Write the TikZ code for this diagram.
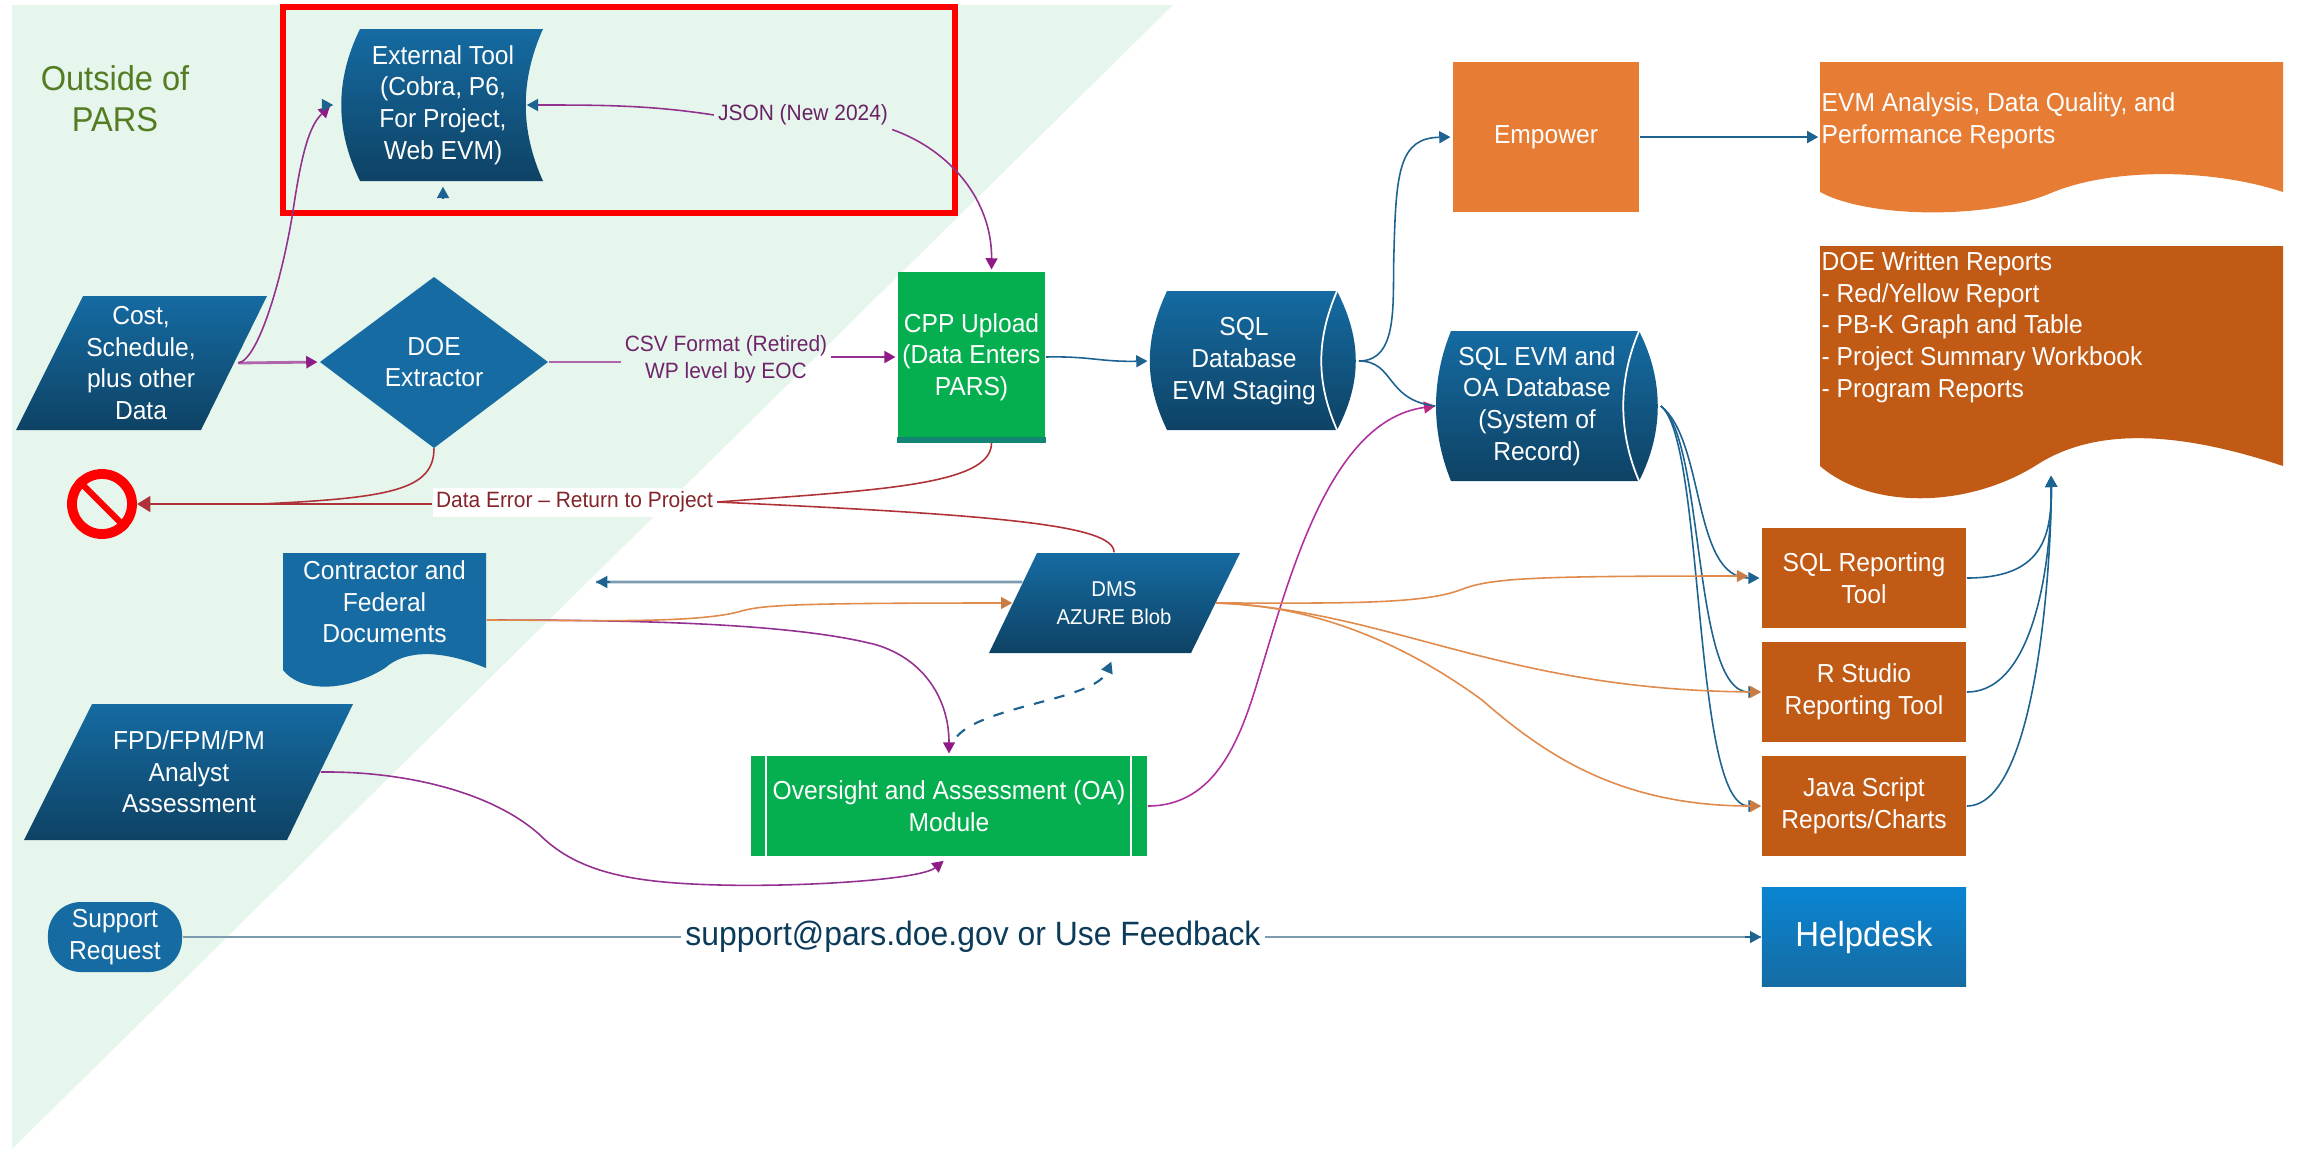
\documentclass[tikz,border=0pt]{standalone}
\usepackage{fontspec}
\setmainfont[FakeStretch=0.945]{Liberation Sans}
\usetikzlibrary{positioning, arrows.meta}
\definecolor{paleGreen}{HTML}{E6F6EC}
\definecolor{oliveText}{HTML}{547D23}
\definecolor{boxGreen}{HTML}{05AF50}
\definecolor{midBlue}{HTML}{156BA2}
\definecolor{deepBlue}{HTML}{0E4264}
\definecolor{lineBlue}{HTML}{1C6391}
\definecolor{lineGray}{HTML}{7C9AB0}
\definecolor{linePurple}{HTML}{94308F}
\definecolor{tipPurple}{HTML}{8E1B86}
\definecolor{lineMagenta}{HTML}{B0309F}
\definecolor{lineRed}{HTML}{AF3238}
\definecolor{lineOrange}{HTML}{E08A4C}
\definecolor{lightOrange}{HTML}{E77D35}
\definecolor{darkOrange}{HTML}{C05A14}
\tikzset{
    boxtext/.style={text=white, align=center, inner sep=0pt, font=\fontsize{7.4}{9}\selectfont},
    doctext/.style={text=white, align=left, inner sep=0pt, anchor=north west, font=\fontsize{7.4}{9}\selectfont},
    edgetext/.style={align=center, inner sep=1pt, font=\fontsize{6.3}{7.8}\selectfont},
    darkgrad/.style={top color=midBlue, bottom color=deepBlue},
    blueln/.style={lineBlue, line width=0.45pt, shorten >=0.5pt, -{Triangle[length=3.2pt,width=3.4pt]}},
    purpleln/.style={linePurple, line width=0.45pt, shorten >=0.5pt, -{Triangle[length=3.2pt,width=3.4pt,color=tipPurple]}},
    orangeln/.style={lineOrange, line width=0.45pt, -{Triangle[length=3.2pt,width=3.4pt,color=lineOrange!90!black]}},
    redln/.style={lineRed, line width=0.45pt}
}

\begin{document}
\begin{tikzpicture}[x=0.01cm,y=-0.01cm]
    \useasboundingbox (0,0) rectangle (2298,1151);

    % outside area
    \fill[paleGreen] (12,5) -- (1173,5) -- (12,1149) -- cycle;
    \node[text=oliveText, align=center, inner sep=0pt, font=\fontsize{9.8}{11.6}\selectfont] (outside) at (115,99) {Outside of\\PARS};

    % blue shapes on the left
    \path[darkgrad] (360,29) -- (543,29) .. controls (520,80) and (520,130) .. (543,181) -- (360,181) .. controls (335,130) and (335,80) .. cycle;
    \node[boxtext, minimum width=1.66cm, minimum height=1.52cm] (ext) at (443,105) {External Tool\\(Cobra, P6,\\For Project,\\Web EVM)};
    \path[darkgrad] (83,296) -- (267,296) -- (201,430) -- (16,430) -- cycle;
    \node[boxtext, minimum width=1.93cm, minimum height=1.34cm] (cost) at (141,363) {Cost,\\Schedule,\\plus other\\Data};
    \fill[midBlue] (434,277) -- (548,362) -- (434,448) -- (320,362) -- cycle;
    \node[boxtext, minimum width=2.28cm, minimum height=1.71cm] (doe) at (434,362) {DOE\\Extractor};
    \fill[midBlue] (283,553) -- (486,553) -- (486,668) .. controls (440,649) and (405,650) .. (385,668) .. controls (345,693) and (300,692) .. (283,670) -- cycle;
    \node[boxtext, minimum width=2.03cm, minimum height=1.34cm] (contract) at (384.5,602) {Contractor and\\Federal\\Documents};
    \path[darkgrad] (92,704) -- (353,704) -- (287,840) -- (24,840) -- cycle;
    \node[boxtext, minimum width=2.62cm, minimum height=1.36cm] (fpd) at (189,772) {FPD/FPM/PM\\Analyst\\Assessment};
    \node[boxtext, fill=midBlue, rounded corners=0.33cm, minimum width=1.34cm, minimum height=0.7cm] (support) at (115,937) {Support\\Request};

    % red sign and red frame
    \node[circle, draw=red, line width=2.8pt, minimum size=0.6cm, inner sep=0pt] (stop) at (102,504) {};
    \draw[red, line width=1.8pt] (stop.north west) -- (stop.south east);
    \draw[red, line width=1.7pt] (283,7) rectangle (955,213);

    % middle shapes
    \node[boxtext, fill=boxGreen, minimum width=1.47cm, minimum height=1.7cm] (cpp) at (971.5,357) {CPP Upload\\(Data Enters\\PARS)};
    \fill[lineBlue!55!boxGreen] (cpp.south west) rectangle ([yshift=0.06cm]cpp.south east);
    \path[darkgrad] (1167,291) -- (1337,291) .. controls (1362,340) and (1362,382) .. (1337,430) -- (1167,430) .. controls (1144,382) and (1144,340) .. cycle;
    \draw[white, line width=0.5pt] (1337,291) .. controls (1316,340) and (1316,382) .. (1337,430);
    \node[boxtext, minimum width=1.88cm, minimum height=1.39cm] (stage) at (1244,361) {SQL\\Database\\EVM Staging};
    \path[darkgrad] (1451,331) -- (1639,331) .. controls (1664,380) and (1664,432) .. (1639,481) -- (1451,481) .. controls (1431,432) and (1431,380) .. cycle;
    \draw[white, line width=0.5pt] (1639,331) .. controls (1618,380) and (1618,432) .. (1639,481);
    \node[boxtext, minimum width=2.02cm, minimum height=1.5cm] (evm) at (1537,406) {SQL EVM and\\OA Database\\(System of\\Record)};
    \path[darkgrad] (1037,553) -- (1240,553) -- (1191,653) -- (989,653) -- cycle;
    \node[boxtext, font=\fontsize{6.1}{7.8}\selectfont, minimum width=2.02cm, minimum height=1cm] (dms) at (1114,603) {DMS\\AZURE Blob};
    \node[boxtext, fill=boxGreen, minimum width=3.96cm, minimum height=1cm] (oa) at (949,806) {Oversight and Assessment (OA)\\Module};
    \draw[white, line width=0.5pt] (766,756) -- (766,856) (1131,756) -- (1131,856);

    % orange shapes
    \node[boxtext, fill=lightOrange, minimum width=1.86cm, minimum height=1.5cm] (empower) at (1546,137) {Empower};
    \fill[lightOrange] (1820,62) -- (2283,62) -- (2283,192) .. controls (2210,168) and (2110,168) .. (2051,193) .. controls (1990,219) and (1870,219) .. (1820,192) -- cycle;
    \node[doctext] (evmdoc) at (1821,92) {EVM Analysis, Data Quality, and\\Performance Reports};
    \fill[darkOrange] (1820,246) -- (2283,246) -- (2283,466) .. controls (2160,425) and (2085,433) .. (2035,466) .. controls (1965,509) and (1870,509) .. (1820,466) -- cycle;
    \node[doctext] (doedoc) at (1821,251) {DOE Written Reports\\- Red/Yellow Report\\- PB-K Graph and Table\\- Project Summary Workbook\\- Program Reports};

    % reporting boxes
    \foreach \y/\nm/\descr in {578/sqlrep/{SQL Reporting\\Tool},692/rrep/{R Studio\\Reporting Tool},806/jsrep/{Java Script\\Reports/Charts}}
        \node[boxtext, fill=darkOrange, minimum width=2.04cm, minimum height=0.99cm] (\nm) at (1864,\y) {\descr};
    \node[boxtext, top color=midBlue!60!cyan!80!blue, bottom color=midBlue, minimum width=2.04cm, minimum height=0.99cm, font=\fontsize{9.9}{11}\selectfont] (helpdesk) at (1864,937) {Helpdesk};

    % edge labels
    \node[edgetext, text=linePurple!70!black] (json) at (803,115) {JSON (New 2024)};
    \node[edgetext, text=linePurple!75!black] (csv) at (726,359.5) {CSV Format (Retired)\\WP level by EOC};
    \node[edgetext, text=lineRed!75!black, fill=white, minimum height=0.29cm] (dataerr) at (574.5,502) {Data Error -- Return to Project};
    \node[inner sep=1pt, text=deepBlue!90!black, font=\fontsize{9.6}{11}\selectfont] (mail) at (973,937) {support@pars.doe.gov or Use Feedback};

    % cost and extractor lines
    \draw[purpleln, linePurple!75, line width=0.8pt] (cost.east) -- (doe.west);
    \draw[purpleln] (cost.east) .. controls (258,360) and (282,280) .. (293,211) .. controls (302,150) and (310,125) .. ([xshift=-0.28cm]ext.west);
    \draw[lineBlue, line width=0.45pt, -{Triangle[length=3.2pt,width=3.4pt]}] ([xshift=-0.31cm]ext.west) -- ([xshift=-0.26cm]ext.west);
    \draw[linePurple!75, line width=0.8pt] (doe.east) -- (csv.west |- doe.east);
    \draw[purpleln, line width=0.7pt] (csv.east |- cpp.west) -- (cpp.west);
    \draw[linePurple, line width=0.45pt, -{Triangle[length=3.2pt,width=3.4pt,color=lineBlue]}] (json.west) .. controls (650,105) and (600,105) .. (ext.east);
    \draw[purpleln] (json.south east) .. controls (950,150) and (992,200) .. ([xshift=0.2cm]cpp.north);
    \draw[lineBlue, line width=0.45pt, -{Triangle[length=3.2pt,width=3.4pt]}] ([yshift=-0.16cm]ext.south) -- ([yshift=-0.05cm]ext.south);

    % data errors
    \draw[redln, line width=0.8pt, -{Triangle[length=3.8pt,width=4.4pt]}] (dataerr.west |- stop.east) -- (stop.east);
    \draw[redln] (doe.south) .. controls (434,490) and (390,498) .. (260,504);
    \draw[redln] ([xshift=0.2cm]cpp.south) .. controls (992,485) and (880,490) .. (dataerr.east);
    \draw[redln] (dms.north) .. controls (1114,525) and (1000,515) .. (dataerr.east);

    % documents
    \draw[lineGray, line width=0.8pt] ([yshift=0.21cm,xshift=0.1cm]dms.west) -- (596,582);
    \draw[lineBlue, -{Triangle[length=3.2pt,width=3.4pt]}, line width=0.45pt] (610,582) -- (596,582);
    \draw[purpleln] ([yshift=-0.18cm]contract.east) .. controls (620,620) and (790,622) .. (877,645) .. controls (925,660) and (949,700) .. (oa.north);
    \draw[orangeln] ([yshift=-0.18cm]contract.east) .. controls (580,620) and (690,624) .. (738,612) .. controls (760,605) and (790,603) .. (dms.west);
    \draw[blueln, dashed, line width=0.6pt] ([xshift=0.08cm,yshift=0.19cm]oa.north) .. controls (985,705) and (1095,700) .. (1112,660);
    \draw[purpleln] (fpd.east) .. controls (400,771) and (490,790) .. (540,835) .. controls (580,875) and (640,883) .. (720,885) .. controls (800,887) and (920,880) .. ([xshift=-0.04cm,yshift=-0.03cm]oa.south);
    \draw[lineMagenta, line width=0.45pt, -{Triangle[length=3.2pt,width=3.4pt,color=lineMagenta!80!red]}] (oa.east) .. controls (1215,806) and (1240,740) .. (1258,680) .. controls (1290,575) and (1330,420) .. (evm.west);

    % database lines
    \draw[blueln] (cpp.east) .. controls (1090,356) and (1100,362) .. (stage.west);
    \draw[blueln] ([xshift=0.2cm]stage.east) .. controls (1400,361) and (1392,300) .. (1394,250) .. controls (1396,170) and (1400,138) .. (empower.west);
    \draw[lineBlue, line width=0.45pt] ([xshift=0.2cm]stage.east) .. controls (1395,361) and (1385,400) .. (evm.west);
    \draw[blueln, line width=0.7pt] (empower.east) -- ([xshift=-0.01cm]evmdoc.west |- empower.east);

    % to the reporting boxes and on to the written reports
    \foreach \y/\nm in {578/sqlrep,692/rrep,806/jsrep}{
        \draw[blueln] ([xshift=0.22cm]evm.east) .. controls (1705,440) and (1692,\y) .. (\nm.west);
        \draw[blueln] (\nm.east) .. controls (2040,\y) and (2052,540) .. (2051,474);
    }
    \draw[orangeln] (dms.east) .. controls (1330,603) and (1420,605) .. (1460,590) .. controls (1490,578) and (1530,576) .. (1748,576);
    \draw[orangeln] (dms.east) .. controls (1390,610) and (1500,690) .. (rrep.west);
    \draw[orangeln] (dms.east) .. controls (1310,605) and (1400,640) .. (1482,700) .. controls (1545,755) and (1620,806) .. (jsrep.west);

    % helpdesk line
    \draw[lineGray, line width=0.8pt] (support.east) -- (mail.west);
    \draw[lineGray, line width=0.8pt] (mail.east) -- (helpdesk.west);
    \draw[lineBlue, -{Triangle[length=3.2pt,width=3.4pt]}, line width=0.45pt] (1745,937) -- (helpdesk.west);
\end{tikzpicture}
\end{document}
